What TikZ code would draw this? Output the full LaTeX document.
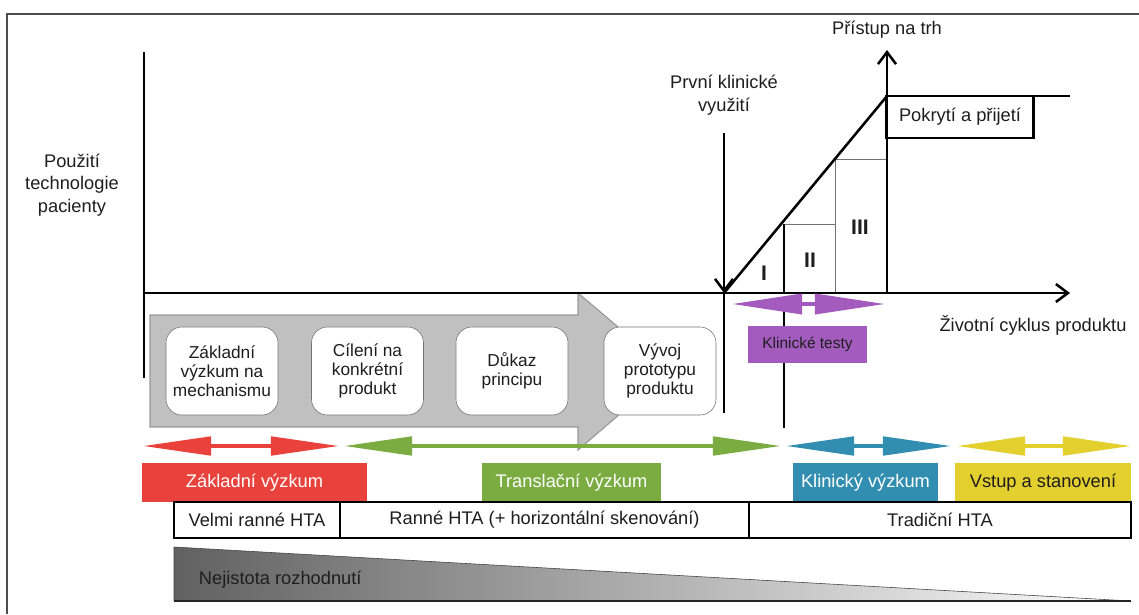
\documentclass[tikz,border=0pt]{standalone}
\usepackage{fontspec}
\setmainfont{Liberation Sans}
\usetikzlibrary{arrows.meta}
\definecolor{zredc}{RGB}{233,66,60}
\definecolor{zgreenc}{RGB}{122,172,66}
\definecolor{zbluec}{RGB}{50,142,176}
\definecolor{zyellowc}{RGB}{227,207,46}
\definecolor{zpurplec}{RGB}{163,92,190}
\definecolor{zgrayc}{RGB}{192,192,192}
\definecolor{zinkc}{RGB}{30,30,30}

\begin{document}
\begin{tikzpicture}[x=0.025cm,y=-0.025cm]
            \useasboundingbox (0,0) rectangle (1139,614);
            \draw [line width=1.4pt, black!70] (7,614) -- (7,14) -- (1139,14);
            \draw [fill=zgrayc, draw=black!40, thick] (150,315) -- (578,315) -- (578,293) -- (670,371)
                -- (578,450) -- (578,427) -- (150,427) -- cycle;

            \coordinate (O) at (144,293);
            \coordinate (Ytop) at (144,52);
            \coordinate (Ybot) at (144,378);
            \coordinate (Xend) at (1070,293);
            \coordinate (K) at (724,293);
            \coordinate (Ktop) at (724,133);
            \coordinate (Kbot) at (724,413);
            \coordinate (M) at (887,293);
            \coordinate (Mtop) at (887,50);
            \coordinate (Mcap) at (887,96);
            \coordinate (Mend) at (1070,96);
            \coordinate (T) at (784,224);
            \coordinate (T') at (784,293);
            \coordinate (Ttop) at (784,309);
            \coordinate (Tbot) at (784,428);

            \draw [black!55] (784,224) rectangle (835,293);
            \draw [black!55] (835,159) rectangle (887,293);

            \begin{scope}[>={Straight Barb[length=0.3cm,width=0.45cm]},
                          every edge/.style={draw=black,line width=1.8pt}]
                \path (Ytop) edge (Ybot);
                \path [->] (O) edge (Xend);
                \path [->] (Ktop) edge (K);
                \path (K) edge (Kbot);
                \path [->] (M) edge (Mtop);
                \path (K) edge (Mcap);
                \path (Mcap) edge (Mend);
                \path (T) edge (T');
                \path [line width=1.5pt] (Ttop) edge (Tbot);
            \end{scope}

            \begin{scope}[every node/.style={text=zinkc,align=center,font=\fontsize{13}{16}\selectfont}]
                \node (pouziti) at (72,185) {Použití\\technologie\\pacienty};
                \node (prvni) at (724,95) {První klinické\\využití};
                \node (pristup) at (887,30) {Přístup na trh};
                \node (cyklus) at (1033,325) {Životní cyklus produktu};
                \node (pokryti) [draw=black,line width=2pt,minimum width=3.675cm,minimum height=1.05cm] at (960,117) {Pokrytí a přijetí};
            \end{scope}

            \begin{scope}[every node/.style={text=zinkc,font=\fontsize{15}{17}\bfseries}]
                \node (f1) at (764,273) {I};
                \node (f2) at (810,260) {II};
                \node (f3) at (860,227) {III};
            \end{scope}

            \begin{scope}[every node/.style={fill=white,draw=black!55,rounded corners=0.4cm,
                          minimum width=2.8cm,minimum height=2.2cm,align=center,text=zinkc,
                          font=\fontsize{12.3}{13.5}\selectfont}]
                \node (zakl) at (222,371) {Základní\\výzkum na\\mechanismu};
                \node (cil) at (367.5,371) {Cílení na\\konkrétní\\produkt};
                \node (dukaz) at (512,371) {Důkaz\\principu};
                \node (vyvoj) at (660,371) {Vývoj\\prototypu\\produktu};
            \end{scope}

            \coordinate (Ra) at (143,446);
            \coordinate (Rb) at (339,446);
            \coordinate (Ga) at (344,446);
            \coordinate (Gb) at (781,446);
            \coordinate (Ba) at (786,446);
            \coordinate (Bb) at (951,446);
            \coordinate (Ya) at (957,446);
            \coordinate (Yb) at (1131,446);
            \coordinate (Pa) at (732,304);
            \coordinate (Pb) at (885,304);

            \begin{scope}[every edge/.style={draw,line width=2.6pt,
                          arrows={Triangle[length=1.7cm,width=0.46cm]-Triangle[length=1.7cm,width=0.46cm]}}]
                \path (Ra) edge [zredc] (Rb);
                \path (Ga) edge [zgreenc] (Gb);
                \path (Ba) edge [zbluec] (Bb);
                \path (Ya) edge [zyellowc] (Yb);
                \path (Pa) edge [zpurplec,arrows={Triangle[length=1.75cm,width=0.5cm]-Triangle[length=1.75cm,width=0.5cm]}] (Pb);
            \end{scope}

            \begin{scope}[every node/.style={minimum height=0.975cm,text=white,font=\fontsize{13}{15}\selectfont}]
                \node (zaklvyz) [fill=zredc,minimum width=5.625cm] at (254.5,482.5) {Základní výzkum};
                \node (transl) [fill=zgreenc,minimum width=4.475cm] at (571.5,482.5) {Translační výzkum};
                \node (klin) [fill=zbluec,minimum width=3.625cm] at (865.5,482.5) {Klinický výzkum};
                \node (vstup) [fill=zyellowc,minimum width=4.4cm,text=zinkc] at (1043,482.5) {Vstup a stanovení};
                \node (testy) [fill=zpurplec,minimum width=2.975cm,minimum height=0.925cm,text=zinkc,
                               font=\fontsize{11}{13}\selectfont] at (807.5,344.5) {Klinické testy};
            \end{scope}

            \begin{scope}[every node/.style={draw=black,line width=1.8pt,minimum height=0.9cm,text=zinkc,
                          font=\fontsize{13}{15}\selectfont}]
                \node (velmi) [minimum width=4.15cm] at (257,520) {Velmi ranné HTA};
                \node (ranne) [minimum width=10.225cm] at (544.5,520) {Ranné HTA (+ horizontální skenování)};
                \node (tradic) [minimum width=9.55cm] at (940,520) {Tradiční HTA};
            \end{scope}

            \shade [left color=black!62, right color=white] (174,547) -- (174,601) -- (1131,601) -- cycle;
            \draw [black!75] (1131,601) -- (174,547) -- (174,601);
            \draw [black!85, line width=1.5pt] (174,601) -- (1131,601);
            \node (nejistota) [anchor=west,text=zinkc,font=\fontsize{13}{15}\selectfont] at (194,580) {Nejistota rozhodnutí};
        \end{tikzpicture}
\end{document}
